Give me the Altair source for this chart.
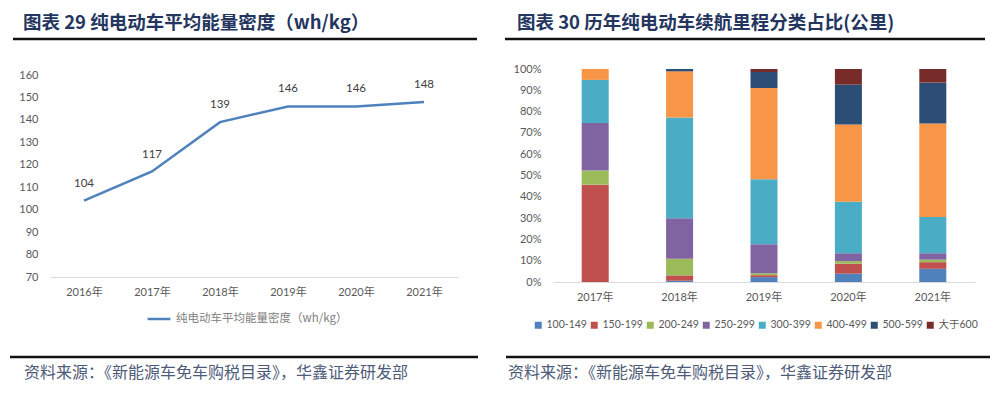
import altair as alt
import pandas as pd

# ---------------- data ----------------
years = ['2016年', '2017年', '2018年', '2019年', '2020年', '2021年']
density = [104, 117, 139, 146, 146, 148]
line_series = '纯电动车平均能量密度（wh/kg）'

bar_years = ['2017年', '2018年', '2019年', '2020年', '2021年']
categories = ['100-149', '150-199', '200-249', '250-299', '300-399', '400-499', '500-599', '大于600']
share_100_149 = [0.0, 0.6, 2.3, 3.9, 6.2]
share_150_199 = [45.7, 2.5, 0.9, 4.7, 3.1]
share_200_249 = [6.6, 7.8, 0.9, 1.2, 1.2]
share_250_299 = [22.4, 19.0, 13.6, 3.7, 3.0]
share_300_399 = [20.2, 47.3, 30.5, 24.1, 17.0]
share_400_499 = [5.1, 21.6, 42.8, 36.3, 43.9]
share_500_599 = [0.0, 1.1, 7.5, 18.7, 19.2]
share_600_plus = [0.0, 0.0, 1.4, 7.3, 6.4]
cat_colors = ['#4F81BD', '#C0504D', '#9BBB59', '#8064A2', '#4BACC6', '#F79646', '#2C4D75', '#772C2A']

title_left = '图表 29 纯电动车平均能量密度（wh/kg）'
title_right = '图表 30 历年纯电动车续航里程分类占比(公里)'
source_text = '资料来源：《新能源车免车购税目录》，华鑫证券研发部'

pct_ticks = [i / 10 for i in range(11)]
density_ticks = list(range(70, 161, 10))

# ---------------- tables ----------------
df_line = pd.DataFrame({'year': years, 'value': density, 'series': [line_series] * len(years)})

all_shares = [share_100_149, share_150_199, share_200_249, share_250_299,
              share_300_399, share_400_499, share_500_599, share_600_plus]
rows = []
for ci, (cat, vals) in enumerate(zip(categories, all_shares)):
    for yr, v in zip(bar_years, vals):
        rows.append({'year': yr, 'cat': cat, 'idx': ci, 'pct': v})
df_bar = pd.DataFrame(rows)

FONT = "Lato, 'Noto Sans CJK SC'"
CJK = "'Noto Sans CJK SC'"
W, H = 984, 379

# ---------------- left chart ----------------
base_left = alt.Chart(df_line).encode(
    x=alt.X('year:N', sort=years, title=None,
            scale=alt.Scale(type='point', range=[42, 450], padding=0.5),
            axis=alt.Axis(orient='bottom', offset=-(H - 269), labelAngle=0, ticks=False,
                          domainColor='#d9d9d9', domainWidth=1, labelPadding=9,
                          labelFont=FONT, labelFontSize=11, labelColor='#595959', grid=False)),
    y=alt.Y('value:Q', title=None,
            scale=alt.Scale(domain=[70, 160], range=[269, 67], nice=False, zero=False),
            axis=alt.Axis(orient='left', offset=-42, values=density_ticks, ticks=False,
                          domain=False, grid=False, labelPadding=12,
                          labelFont=FONT, labelFontSize=11, labelColor='#595959')),
)
line = base_left.mark_line(strokeWidth=2.5).encode(
    color=alt.Color('series:N', scale=alt.Scale(range=['#4F81BD']),
                    legend=alt.Legend(title=None, orient='none', legendX=138, legendY=298,
                                      symbolType='stroke', symbolSize=520, symbolStrokeWidth=2.5,
                                      labelFont=CJK, labelFontSize=11.5, labelColor='#808080',
                                      labelOffset=4, labelLimit=400))
)
labels = base_left.mark_text(dy=-17, font=FONT, fontSize=11.5, color='#404040').encode(
    text=alt.Text('value:Q')
)
left = alt.layer(line, labels)

# ---------------- right chart ----------------
bars = alt.Chart(df_bar).mark_bar().encode(
    x=alt.X('year:N', sort=bar_years, title=None,
            scale=alt.Scale(type='band', range=[545, 967], paddingInner=0.68, paddingOuter=0.34),
            axis=alt.Axis(orient='bottom', offset=-(H - 274), labelAngle=0, ticks=False,
                          domainColor='#d9d9d9', domainWidth=1, labelPadding=9,
                          labelFont=FONT, labelFontSize=11, labelColor='#595959', grid=False)),
    y=alt.Y('pct:Q', stack='normalize', title=None,
            scale=alt.Scale(domain=[0, 1], range=[274, 61], nice=False),
            axis=alt.Axis(orient='left', offset=-545, values=pct_ticks, format='.0%', ticks=False,
                          domain=False, grid=False, labelPadding=12,
                          labelFont=FONT, labelFontSize=11, labelColor='#595959')),
    color=alt.Color('cat:N', sort=categories,
                    scale=alt.Scale(domain=categories, range=cat_colors),
                    legend=alt.Legend(title=None, orient='none', legendX=525, legendY=312,
                                      direction='horizontal', columns=8, symbolType='square',
                                      symbolSize=49, symbolStrokeWidth=0, labelFont=FONT,
                                      labelFontSize=10.5, labelColor='#595959', gridAlign='none',
                                      columnPadding=2, labelOffset=3, labelLimit=200)),
    order=alt.Order('idx:Q', sort='ascending'),
)

# ---------------- decorations ----------------
one = pd.DataFrame({'t': [0]})


def text_at(txt, x, y, size, color, weight='normal'):
    return alt.Chart(pd.DataFrame({'t': [txt]})).mark_text(
        align='left', baseline='middle', font=CJK, fontSize=size, color=color, fontWeight=weight
    ).encode(x=alt.value(x), y=alt.value(y), text='t:N')


def hline(x1, x2, y, w):
    return alt.Chart(one).mark_rule(color='#111111', strokeWidth=w).encode(
        x=alt.value(x1), x2=alt.value(x2), y=alt.value(y))


decor = [
    text_at(title_left, 15, 15, 18.5, '#24365f', 'bold'),
    text_at(title_right, 509, 15, 18.5, '#24365f', 'bold'),
    hline(5, 469, 31, 2.5),
    hline(497, 977, 31, 2.5),
    hline(2, 470, 349, 2.5),
    hline(498, 982, 349, 2.5),
    text_at(source_text, 16, 365, 16, '#4e5b78'),
    text_at(source_text, 500, 365, 16, '#4e5b78'),
]

chart = alt.layer(left, bars, *decor).resolve_scale(
    x='independent', y='independent', color='independent'
).resolve_axis(x='independent', y='independent').resolve_legend(color='independent').properties(
    width=W, height=H, padding=0, autosize=alt.AutoSizeParams(type='none'),
    background='white'
).configure_view(strokeWidth=0)

chart.save('out.html', embed_options={'renderer': 'svg', 'actions': False})
